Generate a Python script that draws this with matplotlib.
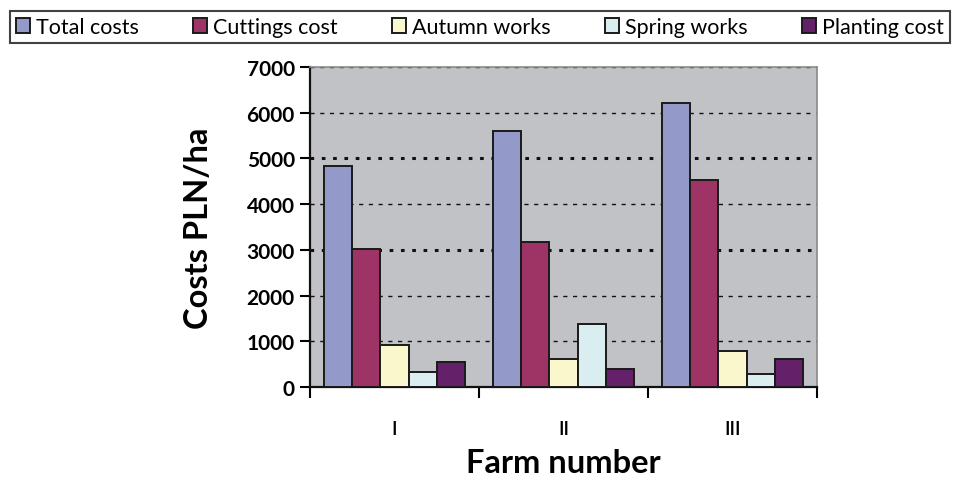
import matplotlib
matplotlib.use("Agg")
import matplotlib.pyplot as plt
import numpy as np

farms = ["I", "II", "III"]
series_names = ["Total costs", "Cuttings cost", "Autumn works", "Spring works", "Planting cost"]
total_costs = [4830, 5600, 6220]
cuttings_cost = [3020, 3180, 4530]
autumn_works = [920, 610, 790]
spring_works = [320, 1370, 280]
planting_cost = [540, 400, 620]
y_ticks = [0, 1000, 2000, 3000, 4000, 5000, 6000, 7000]

colors = ["#939ACA", "#9E3366", "#FBF7CC", "#DAEDF0", "#65206A"]
series = [total_costs, cuttings_cost, autumn_works, spring_works, planting_cost]

fig = plt.figure(figsize=(9.55, 4.81), dpi=100)
ax = fig.add_axes([0.3246, 0.1933, 0.531, 0.6653])
ax.set_facecolor("#C0C2C5")

x = np.arange(len(farms))
width = 1 / 6
for i, (name, vals, col) in enumerate(zip(series_names, series, colors)):
    ax.bar(x + (i - 2) * width, vals, width, color=col, edgecolor="#1a1a1a",
           linewidth=1.4, label=name, zorder=3)

ax.set_xlim(-0.5, 2.5)
ax.set_ylim(0, 7000)
ax.set_yticks(y_ticks)
ax.set_yticklabels([str(v) for v in y_ticks], fontfamily="Lato",
                   fontweight="bold", fontsize=15)
ax.tick_params(axis="y", direction="out", length=7, width=1.5, pad=4)

# group boundaries as major ticks, labels on the minor ticks
ax.set_xticks([-0.5, 0.5, 1.5, 2.5])
ax.set_xticklabels([])
ax.tick_params(axis="x", which="major", direction="out", length=8, width=1.5)
ax.set_xticks(x, minor=True)
ax.set_xticklabels(farms, minor=True, fontfamily="Lato", fontweight="semibold", fontsize=14)
ax.tick_params(axis="x", which="minor", length=0, pad=24)

ax.set_axisbelow(True)
ax.yaxis.grid(True, color="#111111", linestyle=(0, (3, 4)), linewidth=1.0)
for v, gl in zip(y_ticks, ax.get_ygridlines()):
    if v in (3000, 5000):
        gl.set_linestyle((0, (1.2, 2.5)))
        gl.set_linewidth(2.2)

for s in ("left", "bottom"):
    ax.spines[s].set_color("#111111")
    ax.spines[s].set_linewidth(1.6)
for s in ("top", "right"):
    ax.spines[s].set_color("#8a8a8a")
    ax.spines[s].set_linewidth(1.2)

ax.set_ylabel("Costs PLN/ha", fontfamily="Lato", fontweight="bold", fontsize=23.5, labelpad=24)
ax.set_xlabel("Farm number", fontfamily="Lato", fontweight="bold", fontsize=23.5, labelpad=8)

leg = fig.legend(loc="center", bbox_to_anchor=(0.5025, 1 - 28 / 481),
                 ncol=5, frameon=True, fancybox=False, borderaxespad=0,
                 prop={"family": "Lato", "size": 15.5}, handlelength=0.65, handleheight=0.65,
                 handletextpad=0.25, columnspacing=2.55, borderpad=0.3)
leg.get_frame().set_edgecolor("#111111")
leg.get_frame().set_linewidth(1.5)

fig.savefig("out.png", dpi=100)
